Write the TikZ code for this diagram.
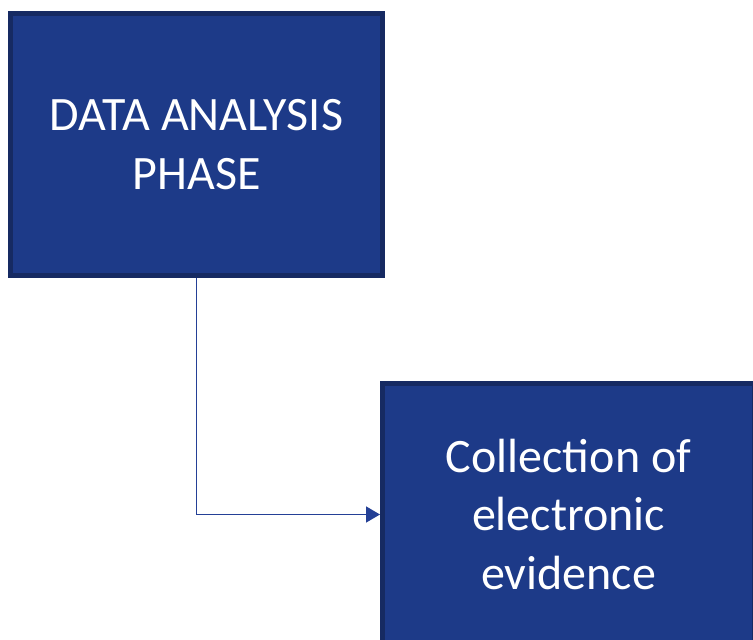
\documentclass[tikz,border=0pt]{standalone}
\usepackage{fontspec}
\setmainfont{Carlito}
\usetikzlibrary{arrows.meta}
\definecolor{boxfill}{RGB}{29,58,136}
\definecolor{boxline}{RGB}{22,42,98}
\definecolor{connline}{RGB}{36,64,150}
\tikzset{
  phasebox/.style={draw=boxline, fill=boxfill, line width=5pt,
    minimum width=372pt, minimum height=262pt, inner sep=0pt,
    text=white, align=center,
    font=\fontsize{48}{58.5}\selectfont},
  conn/.style={draw=connline, line width=1.6pt,
    -{Triangle[length=14pt,width=16pt]}}
}
\begin{document}
\begin{tikzpicture}[x=1pt,y=1pt]
\useasboundingbox (0,0) rectangle (753,640);
\clip (0,0) rectangle (753,640);
\node[phasebox] (b1) at (196.5,495.5) {DATA ANALYSIS\\PHASE};
\node[phasebox] (b2) at (568.5,125.5) {Collection of\\electronic\\evidence};
\draw[conn] (b1.south) |- (b2.west);
\end{tikzpicture}
\end{document}
